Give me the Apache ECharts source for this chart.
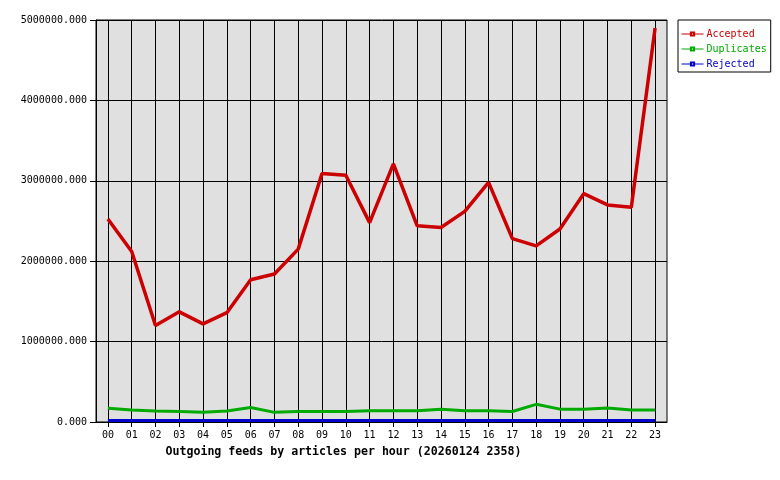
<!DOCTYPE html>
<html><head><meta charset="utf-8">
<script src="https://cdn.jsdelivr.net/npm/echarts@6/dist/echarts.min.js"></script>
<style>html,body{margin:0;padding:0;background:#fff}#c{width:780px;height:480px}</style>
</head><body><div id="c"></div>
<script>
const hours = ['00','01','02','03','04','05','06','07','08','09','10','11','12','13','14','15','16','17','18','19','20','21','22','23'];
const accepted = [2525000,2120000,1200000,1370000,1220000,1360000,1770000,1840000,2150000,3090000,3070000,2480000,3210000,2440000,2420000,2620000,2980000,2280000,2190000,2400000,2840000,2700000,2670000,4900000];
const duplicates = [170000,150000,137000,130000,120000,137000,180000,120000,130000,130000,130000,140000,140000,140000,158000,140000,140000,130000,220000,160000,160000,175000,150000,150000];
const rejected = [18000,18000,18000,18000,18000,18000,18000,18000,18000,18000,18000,18000,18000,18000,18000,18000,18000,18000,18000,18000,18000,18000,18000,18000];
const yTicks = [0,1000000,2000000,3000000,4000000,5000000];
const title = 'Outgoing feeds by articles per hour (20260124 2358)';

const mono = '"DejaVu Sans Mono", monospace';
const chart = echarts.init(document.getElementById('c'), null, {renderer:'canvas'});
const mk = (name, data, color, w) => ({
  name, type:'line', data, symbol:'emptyRect', symbolSize:3, showSymbol:false,
  lineStyle:{color, width:w}, itemStyle:{color, borderColor:color, borderWidth:1}, animation:false, z:3
});
chart.setOption({
  animation:false,
  grid:{left:96, right:113, top:20, bottom:58, show:true, backgroundColor:'#e0e0e0', borderColor:'#000', borderWidth:1},
  legend:{
    orient:'vertical', left:678, top:20, padding:[9,4,3,3], itemGap:5,
    borderColor:'#000', borderWidth:1, backgroundColor:'#fff',
    itemWidth:22, itemHeight:4,
    lineStyle:{width:1},
    itemStyle:{borderWidth:1},
    textStyle:{fontFamily:mono, fontSize:10, padding:[0,0,0,-2]},
    data:[
      {name:'Accepted', textStyle:{color:'#cc0000'}},
      {name:'Duplicates', textStyle:{color:'#00aa00'}},
      {name:'Rejected', textStyle:{color:'#0000cc'}}
    ]
  },
  xAxis:{
    type:'category', data:hours, boundaryGap:true,
    name:title, nameLocation:'middle', nameGap:24,
    nameTextStyle:{fontFamily:mono, fontSize:11.6, fontWeight:'bold', color:'#000', padding:[0,76,0,0]},
    axisLine:{lineStyle:{color:'#000', width:1}},
    axisTick:{show:true, alignWithLabel:true, length:5, lineStyle:{color:'#000'}},
    axisLabel:{fontFamily:mono, fontSize:10, color:'#000', margin:8, interval:0},
    splitLine:{show:true, alignWithLabel:true, lineStyle:{color:'#000', width:1}}
  },
  yAxis:{
    type:'value', min:yTicks[0], max:yTicks[yTicks.length-1], interval:1000000,
    axisLine:{show:true, lineStyle:{color:'#000'}},
    axisTick:{show:true, length:6, lineStyle:{color:'#000'}},
    axisLabel:{fontFamily:mono, fontSize:10, color:'#000', margin:9, formatter:v=>v.toFixed(3)},
    splitLine:{show:true, lineStyle:{color:'#000', width:1}}
  },
  series:[
    mk('Accepted', accepted, '#cc0000', 3.5),
    mk('Duplicates', duplicates, '#00aa00', 3),
    mk('Rejected', rejected, '#0000cc', 3)
  ]
});
</script></body></html>
